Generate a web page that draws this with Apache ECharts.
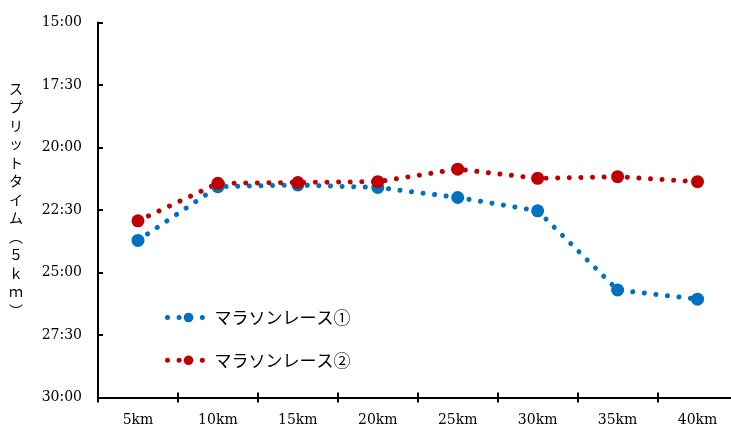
<!DOCTYPE html>
<html>
<head>
<meta charset="utf-8">
<script src="https://cdn.jsdelivr.net/npm/echarts@6/dist/echarts.min.js"></script>
<style>
html,body{margin:0;padding:0;background:#fff;}
#chart{width:731px;height:428px;}
</style>
</head>
<body>
<div id="chart"></div>
<script>
const categories = ['5km','10km','15km','20km','25km','30km','35km','40km'];
const race1 = ['23:43','21:34','21:30','21:36','22:00','22:32','25:42','26:04'];
const race2 = ['22:56','21:26','21:24','21:22','20:52','21:14','21:10','21:22'];
const seriesNames = ['マラソンレース①','マラソンレース②'];
const yTitle = ['ス','プ','リ','ッ','ト','タ','イ','ム','︵','５','ｋ','ｍ','︶'];
const yMin = '15:00', yMax = '30:00', yStep = '2:30';

function toSec(s){ const p = s.split(':'); return (+p[0])*60 + (+p[1]); }
function fmt(v){ const m = Math.floor(v/60), s = Math.round(v%60); return m + ':' + (s<10?'0':'') + s; }

const serif = '"DejaVu Serif", "Liberation Serif", serif';
const cjk = '"Noto Sans CJK JP", sans-serif';
const dotLine = (c) => ({color:c, width:5, type:[0.01, 11.6], cap:'round'});

const chart = echarts.init(document.getElementById('chart'));
chart.setOption({
  animation:false,
  backgroundColor:'#fff',
  grid:{left:98, right:-6.5, top:22.5, bottom:30.5, containLabel:false, outerBoundsMode:'none'},
  legend:{
    orient:'vertical', left:160, top:304, itemWidth:42, itemHeight:12, itemGap:25.8,
    lineStyle:{width:5, cap:'round', type:[0.01, 11.6]},
    textStyle:{fontFamily:cjk, fontSize:17, color:'#000', padding:[0,0,0,0]},
    data:seriesNames
  },
  graphic:[{
    type:'text', x:16, y:79,
    style:{text:yTitle.join('\n'), font:'14px ' + cjk, lineHeight:18.5, textAlign:'center', textVerticalAlign:'top', fill:'#000'}
  }],
  xAxis:[{
    type:'category', data:categories, boundaryGap:true, position:'bottom',
    axisLine:{lineStyle:{color:'#000', width:2}},
    axisTick:{show:true, length:5, lineStyle:{color:'#000', width:2}, alignWithLabel:false},
    axisLabel:{fontFamily:serif, fontSize:14, color:'#000', margin:16}
  },{
    type:'category', data:categories, boundaryGap:true, position:'bottom', gridIndex:0,
    axisLine:{show:false},
    axisTick:{show:true, inside:true, length:5, lineStyle:{color:'#000', width:2}},
    axisLabel:{show:false}
  }],
  yAxis:{
    type:'value', inverse:true, min:toSec(yMin), max:toSec(yMax), interval:toSec(yStep),
    axisLine:{show:true, lineStyle:{color:'#000', width:2}},
    axisTick:{show:true, inside:true, length:5, lineStyle:{color:'#000', width:2}},
    splitLine:{show:false},
    axisLabel:{fontFamily:serif, fontSize:14, color:'#000', margin:16, formatter:fmt}
  },
  series:[{
    name:seriesNames[0], type:'line', data:race1.map(toSec),
    symbol:'circle', symbolSize:13, itemStyle:{color:'#0070C0'}, lineStyle:dotLine('#0070C0')
  },{
    name:seriesNames[1], type:'line', data:race2.map(toSec),
    symbol:'circle', symbolSize:13, itemStyle:{color:'#C00000'}, lineStyle:dotLine('#C00000')
  }]
});
</script>
</body>
</html>
